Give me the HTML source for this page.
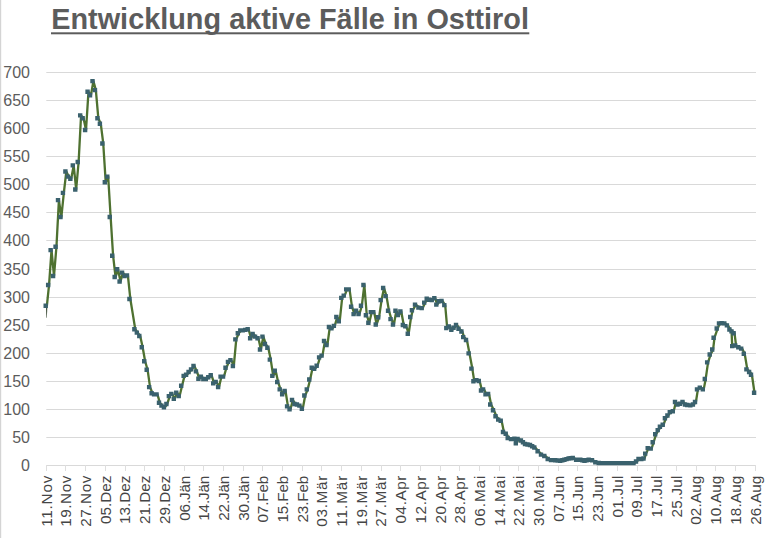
<!DOCTYPE html><html><head><meta charset="utf-8"><title>Entwicklung aktive Fälle in Osttirol</title>
<style>html,body{margin:0;padding:0;background:#fff;}body{width:768px;height:538px;overflow:hidden;}svg{display:block;}text{font-family:"Liberation Sans",sans-serif;}</style></head><body>
<svg width="768" height="538" viewBox="0 0 768 538">
<rect width="768" height="538" fill="#fff"/>
<rect x="0" y="0" width="1.2" height="538" fill="#d4d4d4"/>
<line x1="46.3" x2="756" y1="465.50" y2="465.50" stroke="#d9d9d9" stroke-width="1"/>
<line x1="46.3" x2="756" y1="437.50" y2="437.50" stroke="#d9d9d9" stroke-width="1"/>
<line x1="46.3" x2="756" y1="409.50" y2="409.50" stroke="#d9d9d9" stroke-width="1"/>
<line x1="46.3" x2="756" y1="381.50" y2="381.50" stroke="#d9d9d9" stroke-width="1"/>
<line x1="46.3" x2="756" y1="353.50" y2="353.50" stroke="#d9d9d9" stroke-width="1"/>
<line x1="46.3" x2="756" y1="325.50" y2="325.50" stroke="#d9d9d9" stroke-width="1"/>
<line x1="46.3" x2="756" y1="297.50" y2="297.50" stroke="#d9d9d9" stroke-width="1"/>
<line x1="46.3" x2="756" y1="269.50" y2="269.50" stroke="#d9d9d9" stroke-width="1"/>
<line x1="46.3" x2="756" y1="240.50" y2="240.50" stroke="#d9d9d9" stroke-width="1"/>
<line x1="46.3" x2="756" y1="212.50" y2="212.50" stroke="#d9d9d9" stroke-width="1"/>
<line x1="46.3" x2="756" y1="184.50" y2="184.50" stroke="#d9d9d9" stroke-width="1"/>
<line x1="46.3" x2="756" y1="156.50" y2="156.50" stroke="#d9d9d9" stroke-width="1"/>
<line x1="46.3" x2="756" y1="128.50" y2="128.50" stroke="#d9d9d9" stroke-width="1"/>
<line x1="46.3" x2="756" y1="100.50" y2="100.50" stroke="#d9d9d9" stroke-width="1"/>
<line x1="46.3" x2="756" y1="72.50" y2="72.50" stroke="#d9d9d9" stroke-width="1"/>
<line x1="46.50" x2="46.50" y1="465" y2="471" stroke="#dedede" stroke-width="1"/>
<line x1="65.50" x2="65.50" y1="465" y2="471" stroke="#dedede" stroke-width="1"/>
<line x1="85.50" x2="85.50" y1="465" y2="471" stroke="#dedede" stroke-width="1"/>
<line x1="105.50" x2="105.50" y1="465" y2="471" stroke="#dedede" stroke-width="1"/>
<line x1="125.50" x2="125.50" y1="465" y2="471" stroke="#dedede" stroke-width="1"/>
<line x1="144.50" x2="144.50" y1="465" y2="471" stroke="#dedede" stroke-width="1"/>
<line x1="164.50" x2="164.50" y1="465" y2="471" stroke="#dedede" stroke-width="1"/>
<line x1="184.50" x2="184.50" y1="465" y2="471" stroke="#dedede" stroke-width="1"/>
<line x1="203.50" x2="203.50" y1="465" y2="471" stroke="#dedede" stroke-width="1"/>
<line x1="223.50" x2="223.50" y1="465" y2="471" stroke="#dedede" stroke-width="1"/>
<line x1="243.50" x2="243.50" y1="465" y2="471" stroke="#dedede" stroke-width="1"/>
<line x1="262.50" x2="262.50" y1="465" y2="471" stroke="#dedede" stroke-width="1"/>
<line x1="282.50" x2="282.50" y1="465" y2="471" stroke="#dedede" stroke-width="1"/>
<line x1="302.50" x2="302.50" y1="465" y2="471" stroke="#dedede" stroke-width="1"/>
<line x1="321.50" x2="321.50" y1="465" y2="471" stroke="#dedede" stroke-width="1"/>
<line x1="341.50" x2="341.50" y1="465" y2="471" stroke="#dedede" stroke-width="1"/>
<line x1="361.50" x2="361.50" y1="465" y2="471" stroke="#dedede" stroke-width="1"/>
<line x1="381.50" x2="381.50" y1="465" y2="471" stroke="#dedede" stroke-width="1"/>
<line x1="400.50" x2="400.50" y1="465" y2="471" stroke="#dedede" stroke-width="1"/>
<line x1="420.50" x2="420.50" y1="465" y2="471" stroke="#dedede" stroke-width="1"/>
<line x1="440.50" x2="440.50" y1="465" y2="471" stroke="#dedede" stroke-width="1"/>
<line x1="459.50" x2="459.50" y1="465" y2="471" stroke="#dedede" stroke-width="1"/>
<line x1="479.50" x2="479.50" y1="465" y2="471" stroke="#dedede" stroke-width="1"/>
<line x1="499.50" x2="499.50" y1="465" y2="471" stroke="#dedede" stroke-width="1"/>
<line x1="518.50" x2="518.50" y1="465" y2="471" stroke="#dedede" stroke-width="1"/>
<line x1="538.50" x2="538.50" y1="465" y2="471" stroke="#dedede" stroke-width="1"/>
<line x1="558.50" x2="558.50" y1="465" y2="471" stroke="#dedede" stroke-width="1"/>
<line x1="577.50" x2="577.50" y1="465" y2="471" stroke="#dedede" stroke-width="1"/>
<line x1="597.50" x2="597.50" y1="465" y2="471" stroke="#dedede" stroke-width="1"/>
<line x1="617.50" x2="617.50" y1="465" y2="471" stroke="#dedede" stroke-width="1"/>
<line x1="637.50" x2="637.50" y1="465" y2="471" stroke="#dedede" stroke-width="1"/>
<line x1="656.50" x2="656.50" y1="465" y2="471" stroke="#dedede" stroke-width="1"/>
<line x1="676.50" x2="676.50" y1="465" y2="471" stroke="#dedede" stroke-width="1"/>
<line x1="696.50" x2="696.50" y1="465" y2="471" stroke="#dedede" stroke-width="1"/>
<line x1="715.50" x2="715.50" y1="465" y2="471" stroke="#dedede" stroke-width="1"/>
<line x1="735.50" x2="735.50" y1="465" y2="471" stroke="#dedede" stroke-width="1"/>
<line x1="755.50" x2="755.50" y1="465" y2="471" stroke="#dedede" stroke-width="1"/>
<text x="30" y="471.20" font-size="16" fill="#5c5c5c" text-anchor="end">0</text>
<text x="30" y="443.20" font-size="16" fill="#5c5c5c" text-anchor="end">50</text>
<text x="30" y="415.20" font-size="16" fill="#5c5c5c" text-anchor="end">100</text>
<text x="30" y="387.20" font-size="16" fill="#5c5c5c" text-anchor="end">150</text>
<text x="30" y="359.20" font-size="16" fill="#5c5c5c" text-anchor="end">200</text>
<text x="30" y="331.20" font-size="16" fill="#5c5c5c" text-anchor="end">250</text>
<text x="30" y="303.20" font-size="16" fill="#5c5c5c" text-anchor="end">300</text>
<text x="30" y="275.20" font-size="16" fill="#5c5c5c" text-anchor="end">350</text>
<text x="30" y="246.20" font-size="16" fill="#5c5c5c" text-anchor="end">400</text>
<text x="30" y="218.20" font-size="16" fill="#5c5c5c" text-anchor="end">450</text>
<text x="30" y="190.20" font-size="16" fill="#5c5c5c" text-anchor="end">500</text>
<text x="30" y="162.20" font-size="16" fill="#5c5c5c" text-anchor="end">550</text>
<text x="30" y="134.20" font-size="16" fill="#5c5c5c" text-anchor="end">600</text>
<text x="30" y="106.20" font-size="16" fill="#5c5c5c" text-anchor="end">650</text>
<text x="30" y="78.20" font-size="16" fill="#5c5c5c" text-anchor="end">700</text>
<text transform="translate(51.70,526.80) rotate(-90)" font-size="15.3" fill="#454545" textLength="51.2" lengthAdjust="spacing">11.Nov</text>
<text transform="translate(71.39,526.80) rotate(-90)" font-size="15.3" fill="#454545" textLength="51.2" lengthAdjust="spacing">19.Nov</text>
<text transform="translate(91.08,526.80) rotate(-90)" font-size="15.3" fill="#454545" textLength="51.2" lengthAdjust="spacing">27.Nov</text>
<text transform="translate(110.77,524.10) rotate(-90)" font-size="15.3" fill="#454545" textLength="48.5" lengthAdjust="spacing">05.Dez</text>
<text transform="translate(130.46,524.10) rotate(-90)" font-size="15.3" fill="#454545" textLength="48.5" lengthAdjust="spacing">13.Dez</text>
<text transform="translate(150.15,524.10) rotate(-90)" font-size="15.3" fill="#454545" textLength="48.5" lengthAdjust="spacing">21.Dez</text>
<text transform="translate(169.84,524.10) rotate(-90)" font-size="15.3" fill="#454545" textLength="48.5" lengthAdjust="spacing">29.Dez</text>
<text transform="translate(189.53,520.80) rotate(-90)" font-size="15.3" fill="#454545" textLength="45.2" lengthAdjust="spacing">06.Jän</text>
<text transform="translate(209.22,520.80) rotate(-90)" font-size="15.3" fill="#454545" textLength="45.2" lengthAdjust="spacing">14.Jän</text>
<text transform="translate(228.91,520.80) rotate(-90)" font-size="15.3" fill="#454545" textLength="45.2" lengthAdjust="spacing">22.Jän</text>
<text transform="translate(248.60,520.80) rotate(-90)" font-size="15.3" fill="#454545" textLength="45.2" lengthAdjust="spacing">30.Jän</text>
<text transform="translate(268.29,522.50) rotate(-90)" font-size="15.3" fill="#454545" textLength="46.9" lengthAdjust="spacing">07.Feb</text>
<text transform="translate(287.98,522.50) rotate(-90)" font-size="15.3" fill="#454545" textLength="46.9" lengthAdjust="spacing">15.Feb</text>
<text transform="translate(307.67,522.50) rotate(-90)" font-size="15.3" fill="#454545" textLength="46.9" lengthAdjust="spacing">23.Feb</text>
<text transform="translate(327.36,526.80) rotate(-90)" font-size="15.3" fill="#454545" textLength="51.2" lengthAdjust="spacing">03.Mär</text>
<text transform="translate(347.05,526.80) rotate(-90)" font-size="15.3" fill="#454545" textLength="51.2" lengthAdjust="spacing">11.Mär</text>
<text transform="translate(366.74,526.80) rotate(-90)" font-size="15.3" fill="#454545" textLength="51.2" lengthAdjust="spacing">19.Mär</text>
<text transform="translate(386.43,526.80) rotate(-90)" font-size="15.3" fill="#454545" textLength="51.2" lengthAdjust="spacing">27.Mär</text>
<text transform="translate(406.12,523.50) rotate(-90)" font-size="15.3" fill="#454545" textLength="47.9" lengthAdjust="spacing">04.Apr</text>
<text transform="translate(425.81,523.50) rotate(-90)" font-size="15.3" fill="#454545" textLength="47.9" lengthAdjust="spacing">12.Apr</text>
<text transform="translate(445.50,523.50) rotate(-90)" font-size="15.3" fill="#454545" textLength="47.9" lengthAdjust="spacing">20.Apr</text>
<text transform="translate(465.19,523.50) rotate(-90)" font-size="15.3" fill="#454545" textLength="47.9" lengthAdjust="spacing">28.Apr</text>
<text transform="translate(484.88,526.10) rotate(-90)" font-size="15.3" fill="#454545" textLength="50.5" lengthAdjust="spacing">06.Mai</text>
<text transform="translate(504.57,526.10) rotate(-90)" font-size="15.3" fill="#454545" textLength="50.5" lengthAdjust="spacing">14.Mai</text>
<text transform="translate(524.26,526.10) rotate(-90)" font-size="15.3" fill="#454545" textLength="50.5" lengthAdjust="spacing">22.Mai</text>
<text transform="translate(543.95,526.10) rotate(-90)" font-size="15.3" fill="#454545" textLength="50.5" lengthAdjust="spacing">30.Mai</text>
<text transform="translate(563.64,521.80) rotate(-90)" font-size="15.3" fill="#454545" textLength="46.2" lengthAdjust="spacing">07.Jun</text>
<text transform="translate(583.33,521.80) rotate(-90)" font-size="15.3" fill="#454545" textLength="46.2" lengthAdjust="spacing">15.Jun</text>
<text transform="translate(603.02,521.80) rotate(-90)" font-size="15.3" fill="#454545" textLength="46.2" lengthAdjust="spacing">23.Jun</text>
<text transform="translate(622.71,517.50) rotate(-90)" font-size="15.3" fill="#454545" textLength="41.9" lengthAdjust="spacing">01.Jul</text>
<text transform="translate(642.40,517.50) rotate(-90)" font-size="15.3" fill="#454545" textLength="41.9" lengthAdjust="spacing">09.Jul</text>
<text transform="translate(662.09,517.50) rotate(-90)" font-size="15.3" fill="#454545" textLength="41.9" lengthAdjust="spacing">17.Jul</text>
<text transform="translate(681.78,517.50) rotate(-90)" font-size="15.3" fill="#454545" textLength="41.9" lengthAdjust="spacing">25.Jul</text>
<text transform="translate(701.47,524.80) rotate(-90)" font-size="15.3" fill="#454545" textLength="49.2" lengthAdjust="spacing">02.Aug</text>
<text transform="translate(721.16,524.80) rotate(-90)" font-size="15.3" fill="#454545" textLength="49.2" lengthAdjust="spacing">10.Aug</text>
<text transform="translate(740.85,524.80) rotate(-90)" font-size="15.3" fill="#454545" textLength="49.2" lengthAdjust="spacing">18.Aug</text>
<text transform="translate(760.54,524.80) rotate(-90)" font-size="15.3" fill="#454545" textLength="49.2" lengthAdjust="spacing">26.Aug</text>
<text x="51.2" y="28.6" font-size="29.4" font-weight="bold" fill="#5c5c5c" id="ttl" textLength="477.8" lengthAdjust="spacingAndGlyphs">Entwicklung aktive Fälle in Osttirol</text>
<rect x="51" y="32.3" width="478.3" height="2" fill="#5c5c5c"/>
<path d="M46.0 306.70 L47.4 306.70 L46.8 317.8 L46.3 317.8Z" fill="#3f4f3a"/>
<path d="M731.6 332.09 L732.2 346.12 L735.2 345.56" stroke="#4e7130" stroke-width="2.3" fill="none" stroke-linejoin="round"/>
<path d="M46.90 305.70 L49.06 284.93 L51.53 250.12 L53.99 275.95 L56.45 246.75 L58.91 200.16 L61.38 217.00 L63.84 192.86 L66.30 171.53 L68.77 176.58 L71.23 178.82 L73.69 165.35 L76.16 189.49 L78.62 161.98 L81.08 115.39 L83.55 118.19 L86.01 129.98 L88.47 91.81 L90.93 95.18 L93.40 81.14 L95.86 90.12 L98.32 118.19 L100.79 123.81 L103.25 143.46 L105.71 182.19 L108.18 176.58 L110.64 217.00 L113.10 255.74 L115.56 277.07 L118.03 269.21 L120.49 281.56 L122.95 272.58 L125.42 275.95 L127.88 275.39 L130.34 298.96 L132.81 314.12 L135.27 329.28 L137.73 332.65 L140.19 336.02 L142.66 347.24 L145.12 361.28 L147.58 369.70 L150.05 387.10 L152.51 393.28 L154.97 394.40 L157.44 394.40 L159.90 402.82 L162.36 405.63 L164.82 407.31 L167.29 403.95 L169.75 396.09 L172.21 393.84 L174.68 398.89 L177.14 392.72 L179.60 396.09 L182.07 385.70 L184.53 375.88 L186.99 374.75 L189.45 371.95 L191.92 369.42 L194.38 366.05 L196.84 371.38 L199.31 378.68 L201.77 376.61 L204.23 378.96 L206.70 378.96 L209.16 377.28 L211.62 375.31 L214.08 383.34 L216.55 382.05 L219.01 387.10 L221.47 376.61 L223.94 376.61 L226.40 367.74 L228.86 361.84 L231.33 360.16 L233.79 366.05 L236.25 339.38 L238.71 333.21 L241.18 330.40 L243.64 330.40 L246.10 329.84 L248.57 329.28 L251.03 338.26 L253.49 334.05 L255.96 336.58 L258.42 338.26 L260.88 349.49 L263.34 336.58 L265.81 344.04 L268.27 347.81 L270.73 359.60 L273.20 375.88 L275.66 370.82 L278.12 382.05 L280.58 389.35 L283.05 394.18 L285.51 391.03 L287.97 406.36 L290.44 409.22 L292.90 400.02 L295.36 403.95 L297.83 404.51 L300.29 405.63 L302.75 408.72 L305.21 395.52 L307.68 389.35 L310.14 379.47 L312.60 367.79 L315.07 368.80 L317.53 365.77 L319.99 357.35 L322.46 355.67 L324.92 341.07 L327.38 345.00 L329.84 327.03 L332.31 328.33 L334.77 325.91 L337.23 316.93 L339.70 321.42 L342.16 297.84 L344.62 295.60 L347.09 289.42 L349.55 289.42 L352.01 306.82 L354.47 314.12 L356.94 310.75 L359.40 314.12 L361.86 305.70 L364.33 284.93 L366.79 315.24 L369.25 322.77 L371.72 312.16 L374.18 312.16 L376.64 324.45 L379.10 317.21 L381.57 300.09 L384.03 288.02 L386.49 296.16 L388.96 310.75 L391.42 319.17 L393.88 324.51 L396.35 310.75 L398.81 315.02 L401.27 311.54 L403.73 325.01 L406.20 326.19 L408.66 333.77 L411.12 316.93 L412.80 310.19 L415.90 304.58 L419.30 307.67 L422.60 308.17 L425.10 302.67 L427.60 298.80 L430.10 299.81 L432.65 300.09 L435.20 298.12 L437.20 304.58 L439.70 301.21 L442.40 300.99 L445.20 305.14 L447.20 328.16 L449.70 326.47 L452.20 329.84 L454.40 327.76 L456.90 324.96 L459.40 328.72 L462.30 331.53 L464.10 337.14 L466.90 339.95 L469.50 353.42 L472.30 368.58 L474.30 381.32 L477.30 380.14 L479.70 380.93 L481.90 390.47 L484.00 389.35 L486.40 394.40 L489.00 394.07 L491.10 404.51 L493.90 410.29 L496.40 416.30 L499.10 419.67 L501.60 420.79 L503.90 432.02 L506.60 433.70 L508.60 437.97 L511.90 439.15 L515.30 438.75 L516.70 443.24 L518.50 439.03 L521.80 440.44 L525.90 444.03 L530.90 445.04 L535.20 447.57 L538.50 451.27 L541.90 454.64 L545.20 455.99 L548.60 458.96 L551.90 460.09 L556.10 460.20 L561.10 460.87 L565.30 459.69 L569.50 458.51 L573.65 458.01 L577.00 459.69 L581.20 459.69 L585.40 460.87 L589.55 459.69 L592.90 460.20 L596.20 462.22 L599.60 463.06 L606.30 463.17 L634.40 463.12 L636.90 461.49 L639.40 458.96 L642.20 458.96 L644.40 458.51 L646.10 453.63 L648.60 448.13 L651.60 448.63 L653.60 442.23 L656.10 434.26 L658.60 430.16 L660.80 426.79 L663.60 424.72 L665.80 418.26 L668.30 415.45 L670.70 412.09 L673.70 411.24 L675.90 402.04 L678.40 404.51 L680.90 403.72 L683.40 402.04 L685.90 404.51 L688.20 405.07 L691.20 405.35 L693.80 404.51 L695.90 402.04 L697.90 389.35 L700.70 387.67 L703.70 389.35 L705.70 378.96 L708.05 362.40 L710.60 354.54 L713.10 349.49 L714.50 337.70 L717.60 328.55 L719.90 323.39 L722.50 323.10 L725.20 323.39 L727.80 325.35 L730.30 329.45 L734.50 333.21 L736.10 345.56 L739.20 347.24 L742.10 348.65 L744.70 353.70 L747.30 369.42 L750.00 371.95 L751.90 374.75 L754.50 392.72" stroke="#4e7130" stroke-width="2.3" fill="none" stroke-linejoin="round" stroke-linecap="round"/>
<path d="M43.50 303.50h4.4v4.4h-4.4zM45.96 282.73h4.4v4.4h-4.4zM48.43 247.92h4.4v4.4h-4.4zM50.89 273.75h4.4v4.4h-4.4zM53.35 244.55h4.4v4.4h-4.4zM55.81 197.96h4.4v4.4h-4.4zM58.28 214.80h4.4v4.4h-4.4zM60.74 190.66h4.4v4.4h-4.4zM63.20 169.33h4.4v4.4h-4.4zM65.67 174.38h4.4v4.4h-4.4zM68.13 176.62h4.4v4.4h-4.4zM70.59 163.15h4.4v4.4h-4.4zM73.06 187.29h4.4v4.4h-4.4zM75.52 159.78h4.4v4.4h-4.4zM77.98 113.19h4.4v4.4h-4.4zM80.45 115.99h4.4v4.4h-4.4zM82.91 127.78h4.4v4.4h-4.4zM85.37 89.61h4.4v4.4h-4.4zM87.83 92.98h4.4v4.4h-4.4zM90.30 78.94h4.4v4.4h-4.4zM92.76 87.92h4.4v4.4h-4.4zM95.22 115.99h4.4v4.4h-4.4zM97.69 121.61h4.4v4.4h-4.4zM100.15 141.26h4.4v4.4h-4.4zM102.61 179.99h4.4v4.4h-4.4zM105.08 174.38h4.4v4.4h-4.4zM107.54 214.80h4.4v4.4h-4.4zM110.00 253.54h4.4v4.4h-4.4zM112.46 274.87h4.4v4.4h-4.4zM114.93 267.01h4.4v4.4h-4.4zM117.39 279.36h4.4v4.4h-4.4zM119.85 270.38h4.4v4.4h-4.4zM122.32 273.75h4.4v4.4h-4.4zM124.78 273.19h4.4v4.4h-4.4zM127.24 296.76h4.4v4.4h-4.4zM132.17 327.08h4.4v4.4h-4.4zM134.63 330.45h4.4v4.4h-4.4zM137.09 333.82h4.4v4.4h-4.4zM139.56 345.04h4.4v4.4h-4.4zM142.02 359.08h4.4v4.4h-4.4zM144.48 367.50h4.4v4.4h-4.4zM146.95 384.90h4.4v4.4h-4.4zM149.41 391.08h4.4v4.4h-4.4zM151.87 392.20h4.4v4.4h-4.4zM154.34 392.20h4.4v4.4h-4.4zM156.80 400.62h4.4v4.4h-4.4zM159.26 403.43h4.4v4.4h-4.4zM161.72 405.11h4.4v4.4h-4.4zM164.19 401.75h4.4v4.4h-4.4zM166.65 393.89h4.4v4.4h-4.4zM169.11 391.64h4.4v4.4h-4.4zM171.58 396.69h4.4v4.4h-4.4zM174.04 390.52h4.4v4.4h-4.4zM176.50 393.89h4.4v4.4h-4.4zM178.97 383.50h4.4v4.4h-4.4zM181.43 373.68h4.4v4.4h-4.4zM183.89 372.55h4.4v4.4h-4.4zM186.35 369.75h4.4v4.4h-4.4zM188.82 367.22h4.4v4.4h-4.4zM191.28 363.85h4.4v4.4h-4.4zM193.74 369.18h4.4v4.4h-4.4zM196.21 376.48h4.4v4.4h-4.4zM198.67 374.41h4.4v4.4h-4.4zM201.13 376.76h4.4v4.4h-4.4zM203.60 376.76h4.4v4.4h-4.4zM206.06 375.08h4.4v4.4h-4.4zM208.52 373.11h4.4v4.4h-4.4zM210.98 381.14h4.4v4.4h-4.4zM213.45 379.85h4.4v4.4h-4.4zM215.91 384.90h4.4v4.4h-4.4zM218.37 374.41h4.4v4.4h-4.4zM220.84 374.41h4.4v4.4h-4.4zM223.30 365.54h4.4v4.4h-4.4zM225.76 359.64h4.4v4.4h-4.4zM228.23 357.96h4.4v4.4h-4.4zM230.69 363.85h4.4v4.4h-4.4zM233.15 337.19h4.4v4.4h-4.4zM235.61 331.01h4.4v4.4h-4.4zM238.08 328.20h4.4v4.4h-4.4zM240.54 328.20h4.4v4.4h-4.4zM243.00 327.64h4.4v4.4h-4.4zM245.47 327.08h4.4v4.4h-4.4zM247.93 336.06h4.4v4.4h-4.4zM250.39 331.85h4.4v4.4h-4.4zM252.86 334.38h4.4v4.4h-4.4zM255.32 336.06h4.4v4.4h-4.4zM257.78 347.29h4.4v4.4h-4.4zM260.24 334.38h4.4v4.4h-4.4zM262.71 341.84h4.4v4.4h-4.4zM265.17 345.61h4.4v4.4h-4.4zM267.63 357.40h4.4v4.4h-4.4zM270.10 373.68h4.4v4.4h-4.4zM272.56 368.62h4.4v4.4h-4.4zM275.02 379.85h4.4v4.4h-4.4zM277.49 387.15h4.4v4.4h-4.4zM279.95 391.98h4.4v4.4h-4.4zM282.41 388.83h4.4v4.4h-4.4zM284.87 404.16h4.4v4.4h-4.4zM287.34 407.02h4.4v4.4h-4.4zM289.80 397.82h4.4v4.4h-4.4zM292.26 401.75h4.4v4.4h-4.4zM294.73 402.31h4.4v4.4h-4.4zM297.19 403.43h4.4v4.4h-4.4zM299.65 406.52h4.4v4.4h-4.4zM302.12 393.32h4.4v4.4h-4.4zM304.58 387.15h4.4v4.4h-4.4zM307.04 377.27h4.4v4.4h-4.4zM309.50 365.59h4.4v4.4h-4.4zM311.97 366.60h4.4v4.4h-4.4zM314.43 363.57h4.4v4.4h-4.4zM316.89 355.15h4.4v4.4h-4.4zM319.36 353.47h4.4v4.4h-4.4zM321.82 338.87h4.4v4.4h-4.4zM324.28 342.80h4.4v4.4h-4.4zM326.75 324.83h4.4v4.4h-4.4zM329.21 326.13h4.4v4.4h-4.4zM331.67 323.71h4.4v4.4h-4.4zM334.13 314.73h4.4v4.4h-4.4zM336.60 319.22h4.4v4.4h-4.4zM339.06 295.64h4.4v4.4h-4.4zM341.52 293.40h4.4v4.4h-4.4zM343.99 287.22h4.4v4.4h-4.4zM346.45 287.22h4.4v4.4h-4.4zM348.91 304.62h4.4v4.4h-4.4zM351.38 311.92h4.4v4.4h-4.4zM353.84 308.55h4.4v4.4h-4.4zM356.30 311.92h4.4v4.4h-4.4zM358.76 303.50h4.4v4.4h-4.4zM361.23 282.73h4.4v4.4h-4.4zM363.69 313.04h4.4v4.4h-4.4zM366.15 320.57h4.4v4.4h-4.4zM368.62 309.96h4.4v4.4h-4.4zM371.08 309.96h4.4v4.4h-4.4zM373.54 322.25h4.4v4.4h-4.4zM376.00 315.01h4.4v4.4h-4.4zM378.47 297.89h4.4v4.4h-4.4zM380.93 285.82h4.4v4.4h-4.4zM383.39 293.96h4.4v4.4h-4.4zM385.86 308.55h4.4v4.4h-4.4zM388.32 316.97h4.4v4.4h-4.4zM390.78 322.31h4.4v4.4h-4.4zM393.25 308.55h4.4v4.4h-4.4zM395.71 312.82h4.4v4.4h-4.4zM398.17 309.34h4.4v4.4h-4.4zM400.63 322.81h4.4v4.4h-4.4zM403.10 323.99h4.4v4.4h-4.4zM405.56 331.57h4.4v4.4h-4.4zM408.02 314.73h4.4v4.4h-4.4zM409.70 307.99h4.4v4.4h-4.4zM412.80 302.38h4.4v4.4h-4.4zM416.20 305.47h4.4v4.4h-4.4zM419.50 305.97h4.4v4.4h-4.4zM422.00 300.47h4.4v4.4h-4.4zM424.50 296.60h4.4v4.4h-4.4zM427.00 297.61h4.4v4.4h-4.4zM429.55 297.89h4.4v4.4h-4.4zM432.10 295.92h4.4v4.4h-4.4zM434.10 302.38h4.4v4.4h-4.4zM436.60 299.01h4.4v4.4h-4.4zM439.30 298.79h4.4v4.4h-4.4zM442.10 302.94h4.4v4.4h-4.4zM444.10 325.96h4.4v4.4h-4.4zM446.60 324.27h4.4v4.4h-4.4zM449.10 327.64h4.4v4.4h-4.4zM451.30 325.56h4.4v4.4h-4.4zM453.80 322.76h4.4v4.4h-4.4zM456.30 326.52h4.4v4.4h-4.4zM459.20 329.33h4.4v4.4h-4.4zM461.00 334.94h4.4v4.4h-4.4zM463.80 337.75h4.4v4.4h-4.4zM466.40 351.22h4.4v4.4h-4.4zM469.20 366.38h4.4v4.4h-4.4zM471.20 379.12h4.4v4.4h-4.4zM474.20 377.94h4.4v4.4h-4.4zM476.60 378.73h4.4v4.4h-4.4zM478.80 388.27h4.4v4.4h-4.4zM480.90 387.15h4.4v4.4h-4.4zM483.30 392.20h4.4v4.4h-4.4zM485.90 391.87h4.4v4.4h-4.4zM488.00 402.31h4.4v4.4h-4.4zM490.80 408.09h4.4v4.4h-4.4zM493.30 414.10h4.4v4.4h-4.4zM496.00 417.47h4.4v4.4h-4.4zM498.50 418.59h4.4v4.4h-4.4zM500.80 429.82h4.4v4.4h-4.4zM503.50 431.50h4.4v4.4h-4.4zM505.50 435.77h4.4v4.4h-4.4zM508.80 436.95h4.4v4.4h-4.4zM512.20 436.55h4.4v4.4h-4.4zM513.60 441.04h4.4v4.4h-4.4zM515.40 436.83h4.4v4.4h-4.4zM518.70 438.24h4.4v4.4h-4.4zM520.75 440.03h4.4v4.4h-4.4zM522.80 441.83h4.4v4.4h-4.4zM525.30 442.34h4.4v4.4h-4.4zM527.80 442.84h4.4v4.4h-4.4zM529.95 444.10h4.4v4.4h-4.4zM532.10 445.37h4.4v4.4h-4.4zM535.40 449.07h4.4v4.4h-4.4zM538.80 452.44h4.4v4.4h-4.4zM542.10 453.79h4.4v4.4h-4.4zM545.50 456.76h4.4v4.4h-4.4zM548.80 457.89h4.4v4.4h-4.4zM550.90 457.94h4.4v4.4h-4.4zM553.00 458.00h4.4v4.4h-4.4zM555.50 458.34h4.4v4.4h-4.4zM558.00 458.67h4.4v4.4h-4.4zM560.10 458.08h4.4v4.4h-4.4zM562.20 457.49h4.4v4.4h-4.4zM564.30 456.90h4.4v4.4h-4.4zM566.40 456.31h4.4v4.4h-4.4zM568.47 456.06h4.4v4.4h-4.4zM570.55 455.81h4.4v4.4h-4.4zM573.90 457.49h4.4v4.4h-4.4zM576.00 457.49h4.4v4.4h-4.4zM578.10 457.49h4.4v4.4h-4.4zM580.20 458.08h4.4v4.4h-4.4zM582.30 458.67h4.4v4.4h-4.4zM584.38 458.08h4.4v4.4h-4.4zM586.45 457.49h4.4v4.4h-4.4zM589.80 458.00h4.4v4.4h-4.4zM593.10 460.02h4.4v4.4h-4.4zM596.50 460.86h4.4v4.4h-4.4zM598.73 460.90h4.4v4.4h-4.4zM600.97 460.94h4.4v4.4h-4.4zM603.20 460.97h4.4v4.4h-4.4zM605.75 460.97h4.4v4.4h-4.4zM608.31 460.96h4.4v4.4h-4.4zM610.86 460.96h4.4v4.4h-4.4zM613.42 460.95h4.4v4.4h-4.4zM615.97 460.95h4.4v4.4h-4.4zM618.53 460.94h4.4v4.4h-4.4zM621.08 460.94h4.4v4.4h-4.4zM623.64 460.93h4.4v4.4h-4.4zM626.19 460.93h4.4v4.4h-4.4zM628.75 460.92h4.4v4.4h-4.4zM631.30 460.92h4.4v4.4h-4.4zM633.80 459.29h4.4v4.4h-4.4zM636.30 456.76h4.4v4.4h-4.4zM639.10 456.76h4.4v4.4h-4.4zM641.30 456.31h4.4v4.4h-4.4zM643.00 451.43h4.4v4.4h-4.4zM645.50 445.93h4.4v4.4h-4.4zM648.50 446.43h4.4v4.4h-4.4zM650.50 440.03h4.4v4.4h-4.4zM653.00 432.06h4.4v4.4h-4.4zM655.50 427.96h4.4v4.4h-4.4zM657.70 424.59h4.4v4.4h-4.4zM660.50 422.52h4.4v4.4h-4.4zM662.70 416.06h4.4v4.4h-4.4zM665.20 413.25h4.4v4.4h-4.4zM667.60 409.89h4.4v4.4h-4.4zM670.60 409.04h4.4v4.4h-4.4zM672.80 399.84h4.4v4.4h-4.4zM675.30 402.31h4.4v4.4h-4.4zM677.80 401.52h4.4v4.4h-4.4zM680.30 399.84h4.4v4.4h-4.4zM682.80 402.31h4.4v4.4h-4.4zM685.10 402.87h4.4v4.4h-4.4zM688.10 403.15h4.4v4.4h-4.4zM690.70 402.31h4.4v4.4h-4.4zM692.80 399.84h4.4v4.4h-4.4zM694.80 387.15h4.4v4.4h-4.4zM697.60 385.47h4.4v4.4h-4.4zM700.60 387.15h4.4v4.4h-4.4zM702.60 376.76h4.4v4.4h-4.4zM704.95 360.20h4.4v4.4h-4.4zM707.50 352.34h4.4v4.4h-4.4zM710.00 347.29h4.4v4.4h-4.4zM711.40 335.50h4.4v4.4h-4.4zM714.50 326.35h4.4v4.4h-4.4zM716.80 321.19h4.4v4.4h-4.4zM719.40 320.90h4.4v4.4h-4.4zM722.10 321.19h4.4v4.4h-4.4zM724.70 323.15h4.4v4.4h-4.4zM727.20 327.25h4.4v4.4h-4.4zM729.30 329.13h4.4v4.4h-4.4zM731.40 331.01h4.4v4.4h-4.4zM733.00 343.36h4.4v4.4h-4.4zM736.10 345.04h4.4v4.4h-4.4zM739.00 346.45h4.4v4.4h-4.4zM741.60 351.50h4.4v4.4h-4.4zM744.20 367.22h4.4v4.4h-4.4zM746.90 369.75h4.4v4.4h-4.4zM748.80 372.55h4.4v4.4h-4.4zM751.90 390.52h4.4v4.4h-4.4zM730.00 343.92h4.4v4.4h-4.4z" fill="#3a616d"/>
</svg></body></html>
